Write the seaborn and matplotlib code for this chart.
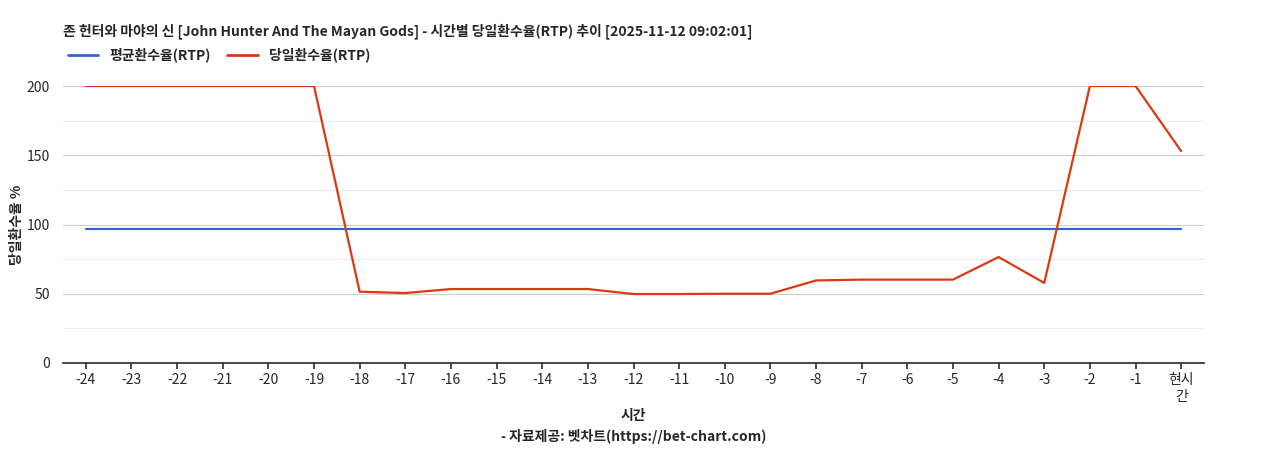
import matplotlib
matplotlib.use("Agg")
import matplotlib.pyplot as plt
import seaborn as sns
import pandas as pd

hours = [str(i) for i in range(-24, 0)] + ["현시\n간"]
avg_rtp = [96.8] * 25
day_rtp = [200, 200, 200, 200, 200, 200, 51.5, 50.5, 53.4, 53.4, 53.4, 53.4, 49.8, 49.8, 50, 50,
           59.6, 60.2, 60.2, 60.2, 76.5, 57.8, 200, 200, 153]

sns.set_theme(style="white")
plt.rcParams['font.family'] = ['Noto Sans CJK KR', 'DejaVu Sans']

fig = plt.figure(figsize=(12.68, 4.5), dpi=100)
ax = fig.add_axes([63/1268, 1-363/450, (1204-63)/1268, (363-86)/450])
x = list(range(25))
df = pd.DataFrame({"x": x * 2, "v": avg_rtp + day_rtp,
                   "s": ["평균환수율(RTP)"] * 25 + ["당일환수율(RTP)"] * 25})
sns.lineplot(data=df, x="x", y="v", hue="s", palette=["#3366cc", "#dc3912"], ax=ax, lw=1.6, legend=False)
ax.set_xlim(-0.5, 24.5)
ax.set_ylim(0, 200)
for v in [25, 75, 125, 175]:
    ax.axhline(v, color="#ebebeb", lw=0.8, zorder=0)
for v in [50, 100, 150, 200]:
    ax.axhline(v, color="#cccccc", lw=0.8, zorder=0)
ax.set_yticks([0, 50, 100, 150, 200])
ax.set_xticks(x)
ax.set_xticklabels(hours, fontsize=10)
ax.tick_params(axis='y', labelsize=10)
ax.tick_params(axis='x', bottom=True, length=4, color="#333333")
for s in ["top", "right", "left"]:
    ax.spines[s].set_visible(False)
ax.spines["bottom"].set_color("#333333")
ax.set_xlabel("시간", fontsize=10, fontweight="bold")
ax.set_ylabel("당일환수율 %", fontsize=10, fontweight="bold", labelpad=2)
fig.text(63/1268, 1-31/450, "존 헌터와 마야의 신 [John Hunter And The Mayan Gods] - 시간별 당일환수율(RTP) 추이 [2025-11-12 09:02:01]",
         fontsize=10, fontweight="bold", va="center")
fig.text(0.5, 1-437/450, "- 자료제공: 벳차트(https://bet-chart.com)", fontsize=10, fontweight="bold", ha="center", va="center")
from matplotlib.lines import Line2D
handles = [Line2D([], [], color="#3366cc", lw=2), Line2D([], [], color="#dc3912", lw=2)]
fig.legend(handles, ["평균환수율(RTP)", "당일환수율(RTP)"], loc="center left", bbox_to_anchor=(55/1268, 1-55/450),
           ncol=2, frameon=False, prop={"weight": "bold", "size": 10}, handlelength=2.2, columnspacing=1.2)
fig.savefig("out.png", dpi=100)
